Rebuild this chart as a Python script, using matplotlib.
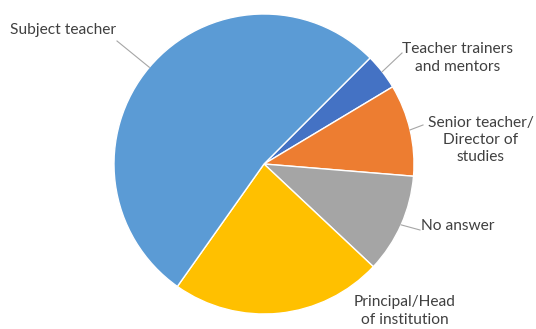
import numpy as np
import matplotlib.pyplot as plt

plt.rcParams['font.family'] = ['Lato', 'DejaVu Sans']

labels = ['Teacher trainers\nand mentors', 'Senior teacher/\nDirector of\nstudies',
          'No answer', 'Principal/Head\nof institution', 'Subject teacher']
shares = [3.9, 9.9, 10.7, 22.8, 52.7]
colors = ['#4472C4', '#ED7D31', '#A5A5A5', '#FFC000', '#5B9BD5']

# label anchor (pixel coords from top-left), alignment, leader line end
label_pos = [(458, 58, 'center'), (481, 140, 'center'), (421, 226, 'left'),
             (405, 311, 'center'), (10, 30, 'left')]
leader_end = [(402, 53), (423, 125), (420, 230), None, (117, 41)]

W, H = 536, 329
fig = plt.figure(figsize=(W / 100, H / 100), dpi=100)
ax = fig.add_axes([0, 0, 1, 1])

cx, cy, r = 264, H - 164, 150
wedges, _ = ax.pie(shares, colors=colors, startangle=45, counterclock=False,
                   center=(cx, cy), radius=r, frame=True,
                   wedgeprops=dict(edgecolor='white', linewidth=1.0))
ax.set_xlim(0, W)
ax.set_ylim(0, H)
ax.set_aspect('equal')
ax.axis('off')

for w, lab, (tx, ty, ha), le in zip(wedges, labels, label_pos, leader_end):
    mid = np.deg2rad((w.theta1 + w.theta2) / 2)
    ex, ey = cx + r * np.cos(mid), cy + r * np.sin(mid)
    ax.text(tx, H - ty, lab, ha=ha, va='center', fontsize=11.2,
            color='#404040', multialignment='center', linespacing=1.3)
    if le is not None:
        ax.plot([ex, le[0]], [ey, H - le[1]], color='#A6A6A6', lw=0.8)

fig.savefig('out.png', dpi=100)
